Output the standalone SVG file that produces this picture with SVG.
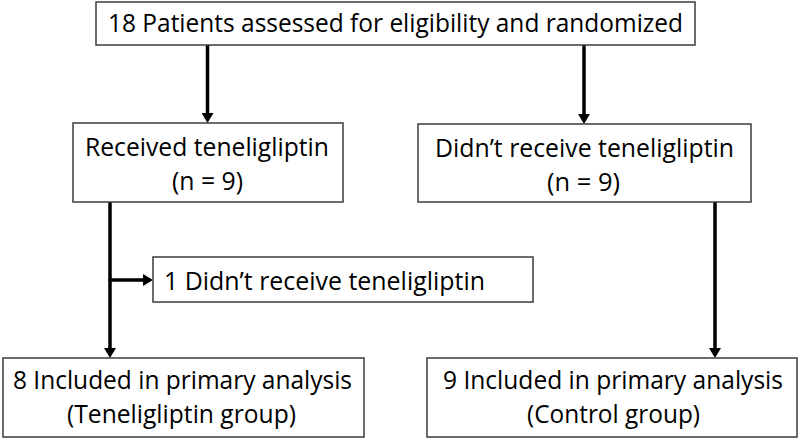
<svg xmlns="http://www.w3.org/2000/svg" width="800" height="438" viewBox="0 0 800 438">
  <style>
    .box { fill: #ffffff; stroke: #3c3c3c; stroke-width: 1.5; }
    .t { font-family: "Open Sans", "Liberation Sans", sans-serif; font-size: 25px; fill: #000000; }
    .c { text-anchor: middle; }
    .conn { stroke: #000000; stroke-width: 3.5; fill: none; marker-end: url(#ah); }
  </style>
  <defs>
    <marker id="ah" viewBox="0 0 10 12" refX="0" refY="6" markerWidth="10" markerHeight="12" markerUnits="userSpaceOnUse" orient="auto">
      <path d="M0,0 L10,6 L0,12 z" fill="#000000"/>
    </marker>
  </defs>
  <rect x="0" y="0" width="800" height="438" fill="#ffffff"/>

  <g id="connectors">
    <path class="conn" d="M207.5 45 V113"/>
    <path class="conn" d="M584 45 V114"/>
    <path class="conn" d="M110 202 V348"/>
    <path class="conn" d="M108.5 280 H143"/>
    <path class="conn" d="M715 202 V348"/>
  </g>

  <g id="n_assessed">
    <rect class="box" x="96" y="2" width="599" height="43"/>
    <text class="t c" x="395.5" y="32" textLength="575" lengthAdjust="spacingAndGlyphs">18 Patients assessed for eligibility and randomized</text>
  </g>

  <g id="n_received">
    <rect class="box" x="73" y="123" width="270" height="79"/>
    <text class="t c" x="207" y="155.5" textLength="244" lengthAdjust="spacingAndGlyphs">Received teneligliptin</text>
    <text class="t c" x="207.5" y="190" textLength="71" lengthAdjust="spacingAndGlyphs">(n = 9)</text>
  </g>

  <g id="n_notreceived">
    <rect class="box" x="418" y="124" width="333" height="78"/>
    <text class="t c" x="584.5" y="156.5" textLength="299" lengthAdjust="spacingAndGlyphs">Didn’t receive teneligliptin</text>
    <text class="t c" x="583.5" y="191" textLength="73" lengthAdjust="spacingAndGlyphs">(n = 9)</text>
  </g>

  <g id="n_excluded">
    <rect class="box" x="153" y="257" width="380" height="45"/>
    <text class="t" x="164" y="290" textLength="321" lengthAdjust="spacingAndGlyphs">1 Didn’t receive teneligliptin</text>
  </g>

  <g id="n_teneli_group">
    <rect class="box" x="3" y="358" width="361" height="79"/>
    <text class="t c" x="182.5" y="389" textLength="339" lengthAdjust="spacingAndGlyphs">8 Included in primary analysis</text>
    <text class="t c" x="181.5" y="423" textLength="229" lengthAdjust="spacingAndGlyphs">(Teneligliptin group)</text>
  </g>

  <g id="n_control_group">
    <rect class="box" x="427" y="358" width="370" height="79"/>
    <text class="t c" x="613" y="389" textLength="340" lengthAdjust="spacingAndGlyphs">9 Included in primary analysis</text>
    <text class="t c" x="613.5" y="423" textLength="173" lengthAdjust="spacingAndGlyphs">(Control group)</text>
  </g>
</svg>
